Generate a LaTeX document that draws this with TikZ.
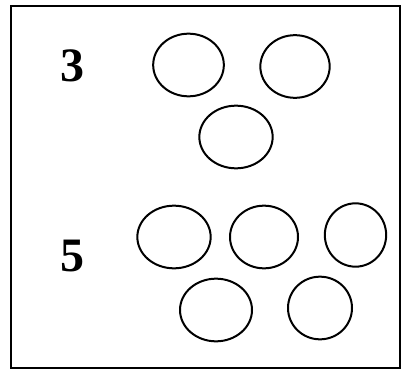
\documentclass[tikz,border=0pt]{standalone}
\usepackage{fontspec}
\setmainfont{Liberation Serif}
\usetikzlibrary{shapes.geometric}
\begin{document}
\begin{tikzpicture}[x=0.75pt,y=-0.75pt,
  ring/.style={draw=black,line width=1.5pt,ellipse,inner sep=0pt,minimum height=47pt},
  digit/.style={font=\fontsize{36}{40}\selectfont\bfseries,inner sep=0pt}]
\useasboundingbox (0,0) rectangle (402,370);
\draw[line width=1.3pt] (11,6) rectangle (400,368);
\node[digit] (n3) at (72,66) {3};
\node[digit] (n5) at (72,256) {5};
\node[ring,minimum width=53pt] (c1) at (188.5,65) {};
\node[ring,minimum width=52pt] (c2) at (295,66.5) {};
\node[ring,minimum width=55pt] (c3) at (236,137) {};
\node[ring,minimum width=55pt] (c4) at (174,237) {};
\node[ring,minimum width=51pt] (c5) at (264,237) {};
\node[ring,minimum width=46pt,minimum height=47.5pt] (c6) at (355.5,235) {};
\node[ring,minimum width=54pt] (c7) at (216,310) {};
\node[ring,minimum width=48pt] (c8) at (320,308) {};
\end{tikzpicture}
\end{document}
